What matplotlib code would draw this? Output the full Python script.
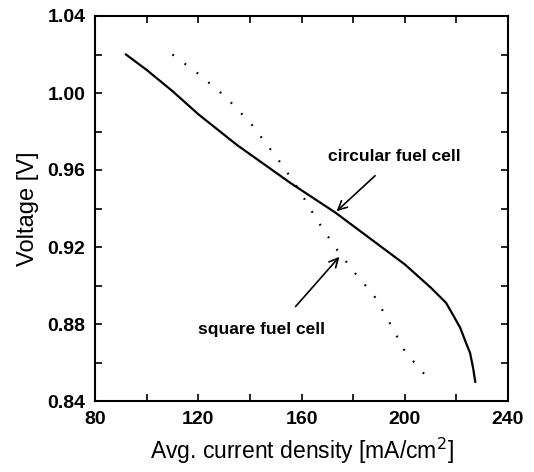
import numpy as np
import matplotlib
matplotlib.use("Agg")
import matplotlib.pyplot as plt
from matplotlib.ticker import MultipleLocator

plt.rcParams['font.family'] = ['Liberation Sans', 'DejaVu Sans']

# circular fuel cell (solid)
circ_x = [92, 100, 110, 120, 135, 156, 173, 188, 200, 205, 210, 216, 219, 221.5, 223.5, 225.3, 226.5, 227.3]
circ_v = [1.020, 1.012, 1.001, 0.989, 0.973, 0.953, 0.938, 0.923, 0.911, 0.905, 0.899, 0.891, 0.884, 0.878, 0.871, 0.865, 0.857, 0.850]

# square fuel cell (dotted)
sq_x = [110, 120, 130.6, 140.5, 152.3, 158.9, 166, 173.5, 181, 188, 194, 200, 205, 209.5]
sq_v = [1.020, 1.010, 0.998, 0.984, 0.963, 0.950, 0.934, 0.919, 0.906, 0.895, 0.881, 0.866, 0.858, 0.851]

fig = plt.figure(figsize=(5.34, 4.72), dpi=100)
ax = fig.add_axes([95/534, 1 - 401/472, (508-95)/534, (401-16)/472])

ax.plot(circ_x, circ_v, color='black', lw=1.6)
ax.plot(sq_x, sq_v, color='black', lw=1.6, linestyle=(0, (0.8, 6)))

ax.set_xlim(80, 240)
ax.set_ylim(0.84, 1.04)
ax.xaxis.set_major_locator(MultipleLocator(40))
ax.xaxis.set_minor_locator(MultipleLocator(20))
ax.yaxis.set_major_locator(MultipleLocator(0.04))
ax.yaxis.set_minor_locator(MultipleLocator(0.02))
ax.yaxis.set_major_formatter(matplotlib.ticker.FormatStrFormatter('%.2f'))
ax.tick_params(which='both', direction='in', top=True, right=True, width=1.2)
ax.tick_params(which='major', length=5, labelsize=14, pad=7)
ax.tick_params(which='minor', length=5)
for lab in ax.get_xticklabels() + ax.get_yticklabels():
    lab.set_fontweight('bold')
for sp in ax.spines.values():
    sp.set_linewidth(1.5)

ax.set_xlabel('Avg. current density [mA/cm$^2$]', fontsize=16.5, labelpad=6)
ax.set_ylabel('Voltage [V]', fontsize=17, labelpad=6)

ax.annotate('', xy=(172.8, 0.9376), xytext=(189.3, 0.958),
            arrowprops=dict(arrowstyle='->', color='black', lw=1.2, mutation_scale=16))
ax.text(196, 0.967, 'circular fuel cell', fontsize=12.5, fontweight='bold', ha='center', va='center')
ax.annotate('', xy=(175.4, 0.916), xytext=(157, 0.888),
            arrowprops=dict(arrowstyle='->', color='black', lw=1.2, mutation_scale=16))
ax.text(144.5, 0.877, 'square fuel cell', fontsize=12.5, fontweight='bold', ha='center', va='center')

fig.savefig('out.png', dpi=100)
